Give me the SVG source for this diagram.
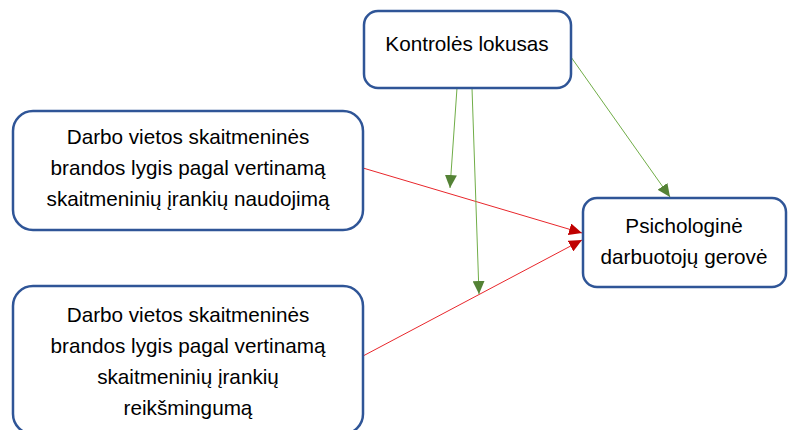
<svg xmlns="http://www.w3.org/2000/svg" width="789" height="430" viewBox="0 0 789 430">
<defs>
<style>
.box{fill:#fff;stroke:#2F5597;stroke-width:2.5}
.t{font-family:"Liberation Sans",Arial,sans-serif;font-size:20.7px;fill:#000;text-anchor:middle}
.g{stroke:#70AD47;stroke-width:1;fill:none}
.r{stroke:#E8262B;stroke-width:1;fill:none}
</style>
<marker id="ag" markerUnits="userSpaceOnUse" markerWidth="14" markerHeight="12" refX="13" refY="6" orient="auto"><path d="M0,0 L13,6 L0,12 Z" fill="#548235"/></marker>
<marker id="ar" markerUnits="userSpaceOnUse" markerWidth="14" markerHeight="12" refX="13" refY="6" orient="auto"><path d="M0,0 L13,6 L0,12 Z" fill="#C00000"/></marker>
</defs>
<g id="connectors">
<line class="r" x1="363" y1="168" x2="582" y2="233" marker-end="url(#ar)"/>
<line class="r" x1="363" y1="356" x2="582" y2="240" marker-end="url(#ar)"/>
<line class="g" x1="457" y1="88" x2="450" y2="188" marker-end="url(#ag)"/>
<line class="g" x1="472" y1="88" x2="479" y2="294" marker-end="url(#ag)"/>
<line class="g" x1="571" y1="57" x2="670" y2="197" marker-end="url(#ag)"/>
</g>
<g id="kontroles">
<rect class="box" x="364" y="11" width="207" height="77" rx="14"/>
<text class="t" x="467" y="51">Kontrolės lokusas</text>
</g>
<g id="gerove">
<rect class="box" x="583" y="198" width="203" height="89" rx="14"/>
<text class="t" x="684" y="233">Psichologinė</text>
<text class="t" x="684" y="264">darbuotojų gerovė</text>
</g>
<g id="naudojimas">
<rect class="box" x="13" y="111" width="350" height="119" rx="20"/>
<text class="t" x="188" y="144">Darbo vietos skaitmeninės</text>
<text class="t" x="188" y="175">brandos lygis pagal vertinamą</text>
<text class="t" x="188" y="206">skaitmeninių įrankių naudojimą</text>
</g>
<g id="reiksmingumas">
<rect class="box" x="13" y="286" width="350" height="148" rx="20"/>
<text class="t" x="188" y="322">Darbo vietos skaitmeninės</text>
<text class="t" x="188" y="353">brandos lygis pagal vertinamą</text>
<text class="t" x="188" y="384">skaitmeninių įrankių</text>
<text class="t" x="188" y="415">reikšmingumą</text>
</g>
</svg>
